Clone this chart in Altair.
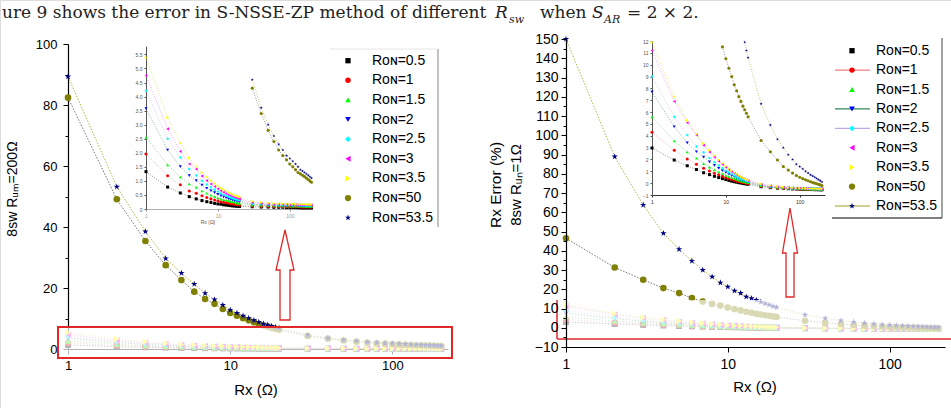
import altair as alt
import pandas as pd

# ---------------------------------------------------------------- data
X_VALUES = list(range(1, 21)) + list(range(30, 201, 10))
SERIES = ["0.5", "1", "1.5", "2", "2.5", "3", "3.5", "50", "53.5"]
LABELS = ["Rᴏɴ=" + s for s in SERIES]

# Rx error (%) with 8 switches, R_um = 200 Ω
LEFT_R05 = [1.33, 0.78, 0.57, 0.44, 0.36, 0.30, 0.26, 0.23, 0.20, 0.18, 0.17, 0.15, 0.14, 0.13, 0.12, 0.11, 0.11, 0.10, 0.10, 0.09,
            0.08, 0.07, 0.07, 0.06, 0.06, 0.06, 0.05, 0.05, 0.05, 0.05, 0.05, 0.04, 0.04, 0.04, 0.04, 0.04, 0.04, 0.04]
LEFT_R1 = [1.96, 1.18, 0.86, 0.64, 0.56, 0.47, 0.41, 0.36, 0.32, 0.29, 0.26, 0.24, 0.22, 0.21, 0.19, 0.18, 0.17, 0.16, 0.15, 0.14,
           0.11, 0.10, 0.10, 0.09, 0.09, 0.09, 0.08, 0.08, 0.08, 0.08, 0.08, 0.07, 0.07, 0.07, 0.07, 0.07, 0.07, 0.07]
LEFT_R15 = [2.55, 1.57, 1.14, 0.89, 0.77, 0.64, 0.56, 0.49, 0.44, 0.40, 0.36, 0.33, 0.31, 0.29, 0.27, 0.25, 0.24, 0.22, 0.21, 0.20,
            0.14, 0.13, 0.12, 0.12, 0.11, 0.11, 0.11, 0.10, 0.10, 0.10, 0.10, 0.10, 0.10, 0.09, 0.09, 0.09, 0.09, 0.09]
LEFT_R2 = [3.57, 2.10, 1.51, 1.19, 1.01, 0.85, 0.74, 0.65, 0.58, 0.52, 0.47, 0.43, 0.40, 0.37, 0.34, 0.32, 0.30, 0.29, 0.27, 0.26,
           0.17, 0.15, 0.14, 0.14, 0.13, 0.13, 0.12, 0.12, 0.12, 0.12, 0.11, 0.11, 0.11, 0.11, 0.11, 0.11, 0.11, 0.10]
LEFT_R25 = [4.21, 2.50, 1.83, 1.42, 1.19, 1.00, 0.87, 0.77, 0.69, 0.62, 0.56, 0.51, 0.47, 0.44, 0.41, 0.38, 0.36, 0.34, 0.32, 0.31,
            0.20, 0.17, 0.16, 0.15, 0.15, 0.14, 0.14, 0.14, 0.13, 0.13, 0.13, 0.13, 0.13, 0.13, 0.12, 0.12, 0.12, 0.12]
LEFT_R3 = [4.75, 2.85, 2.05, 1.60, 1.42, 1.17, 1.01, 0.89, 0.80, 0.72, 0.65, 0.60, 0.55, 0.51, 0.48, 0.45, 0.42, 0.40, 0.38, 0.36,
           0.23, 0.20, 0.18, 0.17, 0.17, 0.16, 0.16, 0.15, 0.15, 0.15, 0.15, 0.14, 0.14, 0.14, 0.14, 0.14, 0.14, 0.14]
LEFT_R35 = [5.39, 3.25, 2.35, 1.81, 1.51, 1.30, 1.14, 1.01, 0.91, 0.82, 0.75, 0.69, 0.64, 0.59, 0.56, 0.52, 0.49, 0.47, 0.45, 0.43,
            0.27, 0.23, 0.21, 0.20, 0.19, 0.19, 0.18, 0.18, 0.18, 0.17, 0.17, 0.17, 0.17, 0.17, 0.16, 0.16, 0.16, 0.16]
LEFT_R50 = [82.4, 49.1, 35.4, 27.5, 22.6, 18.8, 16.4, 14.8, 13.1, 11.8, 10.9, 10.1, 9.4, 8.8, 8.2, 7.7, 7.3, 6.9, 6.6, 6.3,
            4.3, 3.4, 2.8, 2.4, 2.1, 1.9, 1.75, 1.6, 1.5, 1.4, 1.3, 1.25, 1.2, 1.15, 1.1, 1.05, 1.0, 0.95]
LEFT_R535 = [89.3, 53.2, 38.5, 29.7, 24.9, 21.3, 18.3, 16.2, 14.4, 12.8, 11.8, 10.9, 10.1, 9.4, 8.8, 8.3, 7.9, 7.5, 7.2, 6.9,
             4.6, 3.6, 3.0, 2.6, 2.3, 2.1, 1.9, 1.8, 1.7, 1.6, 1.5, 1.4, 1.35, 1.3, 1.25, 1.2, 1.15, 1.1]

# Rx error (%) with 8 switches, R_un = 1 Ω
RIGHT_R05 = [2.97, 1.95, 1.47, 1.15, 0.88, 0.72, 0.58, 0.47, 0.38, 0.30, 0.23, 0.17, 0.12, 0.08, 0.04, 0.01, -0.02, -0.05, -0.07, -0.09,
             -0.30, -0.38, -0.42, -0.45, -0.47, -0.49, -0.50, -0.51, -0.52, -0.53, -0.53, -0.54, -0.54, -0.55, -0.55, -0.55, -0.56, -0.56]
RIGHT_R1 = [4.29, 2.77, 2.03, 1.60, 1.25, 1.02, 0.84, 0.70, 0.58, 0.48, 0.39, 0.31, 0.25, 0.19, 0.14, 0.10, 0.06, 0.03, 0.00, -0.03,
            -0.26, -0.35, -0.40, -0.43, -0.45, -0.47, -0.48, -0.49, -0.50, -0.51, -0.51, -0.52, -0.52, -0.53, -0.53, -0.53, -0.54, -0.54]
RIGHT_R15 = [5.60, 3.56, 2.63, 2.10, 1.65, 1.35, 1.12, 0.94, 0.79, 0.66, 0.55, 0.46, 0.38, 0.31, 0.25, 0.19, 0.14, 0.10, 0.06, 0.03,
             -0.22, -0.32, -0.37, -0.41, -0.43, -0.45, -0.46, -0.47, -0.48, -0.49, -0.49, -0.50, -0.50, -0.51, -0.51, -0.51, -0.52, -0.52]
RIGHT_R2 = [7.70, 4.76, 3.40, 2.65, 2.20, 1.80, 1.50, 1.26, 1.06, 0.90, 0.76, 0.64, 0.54, 0.45, 0.37, 0.30, 0.24, 0.19, 0.14, 0.10,
            -0.18, -0.29, -0.35, -0.39, -0.41, -0.43, -0.45, -0.46, -0.47, -0.47, -0.48, -0.48, -0.49, -0.49, -0.50, -0.50, -0.50, -0.50]
RIGHT_R25 = [9.00, 5.60, 4.06, 3.10, 2.60, 2.12, 1.77, 1.49, 1.26, 1.07, 0.91, 0.77, 0.65, 0.55, 0.46, 0.38, 0.31, 0.25, 0.19, 0.14,
             -0.15, -0.27, -0.33, -0.37, -0.40, -0.42, -0.43, -0.44, -0.45, -0.46, -0.47, -0.47, -0.48, -0.48, -0.48, -0.49, -0.49, -0.49]
RIGHT_R3 = [11.2, 6.90, 5.10, 4.06, 3.20, 2.62, 2.19, 1.85, 1.57, 1.34, 1.14, 0.97, 0.83, 0.70, 0.59, 0.49, 0.41, 0.33, 0.27, 0.21,
            -0.10, -0.23, -0.30, -0.35, -0.38, -0.40, -0.42, -0.43, -0.44, -0.45, -0.45, -0.46, -0.46, -0.47, -0.47, -0.47, -0.48, -0.48]
RIGHT_R35 = [11.9, 7.30, 5.30, 4.15, 3.36, 2.78, 2.33, 1.97, 1.68, 1.44, 1.23, 1.05, 0.90, 0.77, 0.65, 0.55, 0.46, 0.38, 0.31, 0.25,
             -0.07, -0.20, -0.28, -0.33, -0.36, -0.39, -0.41, -0.42, -0.43, -0.44, -0.45, -0.45, -0.46, -0.46, -0.46, -0.47, -0.47, -0.47]
RIGHT_R50 = [46.5, 31.3, 24.9, 20.6, 18.0, 15.4, 13.6, 12.4, 11.5, 10.5, 9.7, 9.0, 8.3, 7.8, 7.3, 6.9, 6.5, 6.2, 5.9, 5.6,
             3.6, 2.65, 1.95, 1.4, 1.1, 0.85, 0.65, 0.5, 0.38, 0.28, 0.2, 0.12, 0.05, 0.0, -0.05, -0.1, -0.15, -0.2]
RIGHT_R535 = [150.0, 88.9, 63.8, 49.1, 40.8, 34.7, 30.0, 26.5, 23.4, 21.3, 19.2, 18.0, 16.1, 15.3, 14.4, 13.4, 12.6, 11.9, 11.2, 10.6,
              6.7, 4.9, 3.7, 3.0, 2.4, 2.0, 1.6, 1.4, 1.2, 1.0, 0.85, 0.7, 0.6, 0.5, 0.4, 0.3, 0.2, 0.1]

LEFT_SERIES = [LEFT_R05, LEFT_R1, LEFT_R15, LEFT_R2, LEFT_R25, LEFT_R3, LEFT_R35, LEFT_R50, LEFT_R535]
RIGHT_SERIES = [RIGHT_R05, RIGHT_R1, RIGHT_R15, RIGHT_R2, RIGHT_R25, RIGHT_R3, RIGHT_R35, RIGHT_R50, RIGHT_R535]

rows = []
for panel_id, group in (("L", LEFT_SERIES), ("R", RIGHT_SERIES)):
    for name, values in zip(SERIES, group):
        for xv, yv in zip(X_VALUES, values):
            rows.append({"panel": panel_id, "series": name, "x": xv, "y": yv})
data = pd.DataFrame(rows)

# ---------------------------------------------------------------- styles
FONT = "Liberation Sans"
STAR = ("M0,-1L0.225,-0.309L0.951,-0.309L0.363,0.118L0.588,0.809L0,0.382"
        "L-0.588,0.809L-0.363,0.118L-0.951,-0.309L-0.225,-0.309Z")
SYMBOL_COLORS = ["#000000", "#ff0000", "#00ff00", "#0000ff", "#00ffff",
                 "#ff00ff", "#ffff00", "#808000", "#000080"]
LINE_COLORS = ["#404040", "#f08080", "#60c060", "#2e8b57", "#c0a8e8",
               "#e070e0", "#d8d840", "#505050", "#a0a020"]
SHAPES = ["square", "circle", "triangle-up", "triangle-down", "diamond",
          "triangle-left", "triangle-right", "circle", STAR]
SIZES_MAIN = [35, 45, 45, 45, 45, 45, 45, 75, 150]
SIZES_INSET = [9, 10, 11, 11, 11, 11, 11, 14, 30]
SIZES_LEGEND = [28, 40, 45, 45, 45, 45, 45, 40, 55]
ARROW = "M0,-1L0.2,-0.111L0.111,-0.111L0.111,1L-0.111,1L-0.111,-0.111L-0.2,-0.111Z"
ARROW_R = "M0,-1L0.169,0.011L0.09,0.011L0.09,1L-0.09,1L-0.09,0.011L-0.169,0.011Z"
RED = "#e02828"

one = alt.Data(values=[{}])


def axis(orient, offset, values, size=13, tick=5, labels=True, fmt=None,
         domain=True, color="black", zindex=0, expr=None, pad=4, dwidth=1.2):
    kw = dict(orient=orient, offset=offset, values=values, tickSize=tick,
              labels=labels, domain=domain, grid=False, title=None,
              labelFont=FONT, labelFontSize=size, labelColor=color,
              tickColor=color, domainColor=color, labelFlush=False,
              labelOverlap=False, labelPadding=pad, zindex=zindex,
              domainWidth=dwidth, tickWidth=1)
    if fmt:
        kw["format"] = fmt
    if expr:
        kw["labelExpr"] = expr
    return alt.Axis(**kw)


def panel(name, xdom, xrng, ydom, yrng, xaxis, yaxis, minor, sizes,
          clip_y=None, dash=(1.5, 1.5), lw=0.8):
    base = alt.Chart(data).transform_filter(alt.datum.panel == name)
    if clip_y is not None:
        base = base.transform_filter(
            (alt.datum.y >= clip_y[0]) & (alt.datum.y <= clip_y[1])
            & (alt.datum.x <= xdom[1]))
    xs = alt.Scale(type="log", domain=xdom, range=xrng, nice=False)
    ys = alt.Scale(domain=ydom, range=yrng, nice=False, zero=False)
    lines = base.mark_line(strokeDash=list(dash), strokeWidth=lw).encode(
        x=alt.X("x:Q", scale=xs, axis=xaxis),
        y=alt.Y("y:Q", scale=ys, axis=yaxis),
        color=alt.Color("series:N", scale=alt.Scale(domain=SERIES, range=LINE_COLORS), legend=None),
        detail="series:N",
    )
    points = base.mark_point(filled=True, opacity=1).encode(
        x=alt.X("x:Q", scale=xs, axis=None),
        y=alt.Y("y:Q", scale=ys, axis=minor),
        color=alt.Color("series:N", scale=alt.Scale(domain=SERIES, range=SYMBOL_COLORS), legend=None),
        shape=alt.Shape("series:N", scale=alt.Scale(domain=SERIES, range=SHAPES), legend=None),
        size=alt.Size("series:N", scale=alt.Scale(domain=SERIES, range=sizes), legend=None),
    )
    return [lines, points]


def text(t, x, y, size=14, font=FONT, angle=0, align="center", baseline="middle",
         style="normal", color="black"):
    return alt.Chart(one).mark_text(
        text=t, font=font, fontSize=size, angle=angle, align=align,
        baseline=baseline, fontStyle=style, color=color,
    ).encode(x=alt.value(x), y=alt.value(y))


def rule(x, y, x2=None, y2=None, color="black", width=1.0):
    enc = {"x": alt.value(x), "y": alt.value(y)}
    if x2 is not None:
        enc["x2"] = alt.value(x2)
    if y2 is not None:
        enc["y2"] = alt.value(y2)
    return alt.Chart(one).mark_rule(color=color, strokeWidth=width).encode(**enc)


def box(x, x2, y, y2, stroke=None, width=2.0, opacity=0.7):
    kw = dict(fill="white", fillOpacity=opacity)
    if stroke:
        kw.update(stroke=stroke, strokeWidth=width)
    return alt.Chart(one).mark_rect(**kw).encode(
        x=alt.value(x), x2=alt.value(x2), y=alt.value(y), y2=alt.value(y2))


def arrow(shape, x, y, size):
    return alt.Chart(one).mark_point(
        shape=shape, size=size, filled=True, color="white", fillOpacity=1,
        stroke=RED, strokeWidth=1.3, strokeOpacity=1, opacity=1,
    ).encode(x=alt.value(x), y=alt.value(y))


def legend(y_range, sym_x, text_x, with_lines=None):
    ldf = pd.DataFrame({"series": SERIES, "label": LABELS})
    ys = alt.Scale(type="point", domain=SERIES, range=y_range, padding=0)
    base = alt.Chart(ldf)
    out = []
    if with_lines:
        out.append(base.transform_filter(alt.FieldOneOfPredicate(field="series", oneOf=with_lines))
                   .mark_rule(strokeWidth=1.2).encode(
            x=alt.value(sym_x - 17), x2=alt.value(sym_x + 18),
            y=alt.Y("series:N", scale=ys, axis=None),
            color=alt.Color("series:N", scale=alt.Scale(domain=SERIES, range=LINE_COLORS), legend=None)))
    out.append(base.mark_point(filled=True, opacity=1).encode(
        x=alt.value(sym_x),
        y=alt.Y("series:N", scale=ys, axis=None),
        color=alt.Color("series:N", scale=alt.Scale(domain=SERIES, range=SYMBOL_COLORS), legend=None),
        shape=alt.Shape("series:N", scale=alt.Scale(domain=SERIES, range=SHAPES), legend=None),
        size=alt.Size("series:N", scale=alt.Scale(domain=SERIES, range=SIZES_LEGEND), legend=None)))
    out.append(base.mark_text(align="left", baseline="middle", font=FONT, fontSize=14, color="black").encode(
        x=alt.value(text_x),
        y=alt.Y("series:N", scale=ys, axis=None),
        text="label:N"))
    return out


layers = []

# left panel: R_um = 200 Ω
layers += panel(
    "L", [1, 220], [68, 448], [0, 100], [349, 44],
    axis("bottom", 349 - 408, [1, 10, 100], fmt="d", pad=5),
    axis("left", -68, [0, 20, 40, 60, 80, 100], pad=6),
    axis("left", -68, [10, 30, 50, 70, 90], tick=3, labels=False, domain=False),
    SIZES_MAIN)

# right panel: R_un = 1 Ω
layers += panel(
    "R", [1, 220], [566, 945], [-10, 150], [347, 39],
    axis("bottom", 347 - 408, [1, 10, 100], fmt="d", pad=5, size=14),
    axis("left", -566, list(range(-10, 151, 10)), size=14, zindex=1, pad=3),
    axis("left", -566, list(range(-5, 150, 10)), tick=3, labels=False, domain=False, zindex=1),
    SIZES_MAIN)

# faded, outlined zoom regions
layers.append(box(58, 452, 327, 358, stroke=RED, width=2))
layers.append(box(557, 951, 300, 339))
layers.append(rule(557, 300, y2=339, color=RED, width=1.5))
layers.append(rule(557, 339, x2=951, color=RED, width=1.5))

# insets
layers += panel(
    "L", [1, 210], [146, 313], [0, 5.8], [209, 46],
    axis("bottom", 209 - 408, [1, 10, 100], size=5, tick=2, fmt="d", pad=2, color="#999", dwidth=0.8),
    axis("left", -146, [0, 0.5, 1, 1.5, 2, 2.5, 3, 3.5, 4, 4.5, 5, 5.5], size=5, tick=2, pad=2,
         color="#555", dwidth=1, expr="datum.value == 0 ? '0' : format(datum.value, '.1f')"),
    None, SIZES_INSET, clip_y=[0, 5.8], dash=(1, 1.5), lw=0.6)
layers += panel(
    "R", [1, 220], [652, 825], [-1, 12], [195, 41],
    axis("bottom", 195 - 408, [1, 10, 100], size=5, tick=2, fmt="d", pad=2, color="#333", dwidth=1),
    axis("left", -652, list(range(-1, 13)), size=5, tick=2, pad=2, fmt="d", color="#555", dwidth=1),
    None, SIZES_INSET, clip_y=[-1, 12], dash=(1, 1.5), lw=0.6)
layers.append(text("Rx (Ω)", 208, 222, size=5, color="#555"))

# arrows pointing to the insets
layers.append(arrow(ARROW, 285, 275, 8100))
layers.append(arrow(ARROW_R, 790, 252.5, 7921))

# legends
layers += legend([60.7, 217.7], 348, 372)
layers.append(rule(438, 49, y2=227, color="#9a9a9a", width=1.2))
layers.append(rule(330, 49, x2=438, color="#e6e6e6", width=1))
layers += legend([50.7, 206], 852, 876, with_lines=["1", "2", "2.5", "53.5"])
layers.append(rule(942, 38, y2=218, color="#666", width=1.2))
layers.append(rule(832, 218, x2=942, color="black", width=1.2))

# axis titles
layers.append(text("Rx (Ω)", 256, 390, size=15))
layers.append(text("Rx (Ω)", 755, 387, size=15))
layers.append(text("8sw Rᵤₘ=200Ω", 13, 189, size=14, angle=270))
layers.append(text("Rx Error (%)", 496, 185, size=15.5, angle=270))
layers.append(text("8sw Rᵤₙ=1Ω", 516, 185, size=15, angle=270))

# running text line above the figure
SERIF = "DejaVu Serif"
layers.append(text("ure 9 shows the error in S-NSSE-ZP method of different", 2, 18, size=17,
                   font=SERIF, align="left", baseline="alphabetic", color="#222"))
layers.append(text("R", 495, 18, size=17, font=SERIF, align="left", baseline="alphabetic", style="italic", color="#222"))
layers.append(text("sw", 509, 23, size=11, font=SERIF, align="left", baseline="alphabetic", style="italic", color="#222"))
layers.append(text("when", 540, 18, size=17, font=SERIF, align="left", baseline="alphabetic", color="#222"))
layers.append(text("S", 592, 18, size=17, font=SERIF, align="left", baseline="alphabetic", style="italic", color="#222"))
layers.append(text("AR", 604, 23, size=11, font=SERIF, align="left", baseline="alphabetic", style="italic", color="#222"))
layers.append(text("= 2 × 2.", 627, 18, size=17, font=SERIF, align="left", baseline="alphabetic", color="#222"))

chart = (
    alt.layer(*layers)
    .resolve_scale(x="independent", y="independent", color="independent",
                   shape="independent", size="independent")
    .resolve_axis(x="independent", y="independent")
    .properties(width=951, height=408, padding=0, autosize=alt.AutoSizeParams(type="none"))
    .configure_view(stroke=None)
    .configure(background="white")
)

chart.save("out.html", embed_options={"renderer": "svg", "actions": False})
